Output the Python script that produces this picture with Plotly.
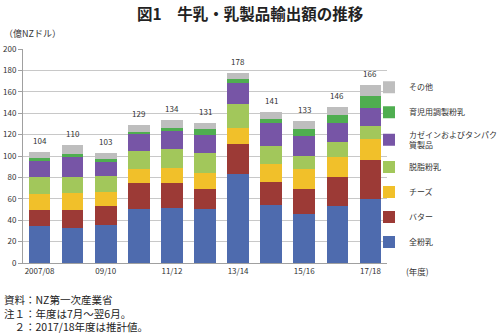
import plotly.graph_objects as go

categories = ["2007/08", "08/09", "09/10", "10/11", "11/12", "12/13",
              "13/14", "14/15", "15/16", "16/17", "17/18"]
tick_labels = ["2007/08", "09/10", "11/12", "13/14", "15/16", "17/18"]

whole_milk = [34.3, 32.8, 35.3, 50.9, 51.8, 50.5, 83.6, 54.0, 46.2, 53.0, 59.6]
butter = [15.0, 16.5, 17.7, 24.0, 23.1, 19.1, 27.2, 21.5, 23.4, 27.5, 36.5]
cheese = [15.0, 16.5, 13.5, 13.4, 14.1, 14.6, 15.0, 16.6, 17.8, 18.7, 19.7]
skim_milk = [15.7, 14.7, 14.9, 16.6, 17.1, 18.2, 22.7, 17.1, 12.8, 14.1, 12.5]
casein = [15.5, 19.0, 12.6, 15.3, 17.2, 17.6, 19.4, 21.3, 18.7, 17.2, 16.2]
infant = [2.2, 2.8, 3.0, 2.5, 3.1, 5.0, 4.4, 4.0, 6.5, 7.8, 11.9]
other = [6.3, 7.7, 6.0, 6.3, 7.6, 6.0, 5.7, 6.5, 7.6, 7.7, 9.6]
totals = [104, 110, 103, 129, 134, 131, 178, 141, 133, 146, 166]

series = [
    ("全粉乳", whole_milk, "#4E6BAE"),
    ("バター", butter, "#9C3A36"),
    ("チーズ", cheese, "#F1C02A"),
    ("脱脂粉乳", skim_milk, "#A2C75B"),
    ("カゼインおよびタンパク<br>質製品", casein, "#7755A6"),
    ("育児用調製粉乳", infant, "#4FAE50"),
    ("その他", other, "#BEBEBE"),
]

FONT = "Noto Sans CJK JP"

fig = go.Figure()
n = len(series)
for i, (name, vals, color) in enumerate(series):
    fig.add_trace(go.Bar(
        x=categories, y=vals, name=name, marker_color=color,
        marker_line_width=0, legendgroup=str(i), legendrank=100 + (n - i),
        hoverinfo="skip",
    ))

for c, t in zip(categories, totals):
    fig.add_annotation(x=c, y=t, text=str(t), showarrow=False,
                       yanchor="bottom", yshift=4,
                       font=dict(family=FONT, size=8, color="#333333"))

fig.add_annotation(xref="paper", yref="paper", x=0.624, y=1, yshift=36,
                   yanchor="middle",
                   text="<b>図1　牛乳・乳製品輸出額の推移</b>", showarrow=False,
                   font=dict(family=FONT, size=15.5, color="#222222"))
fig.add_annotation(xref="paper", yref="paper", x=-0.057, y=1, yshift=16,
                   xanchor="left", yanchor="middle", text="（億NZドル）",
                   showarrow=False,
                   font=dict(family=FONT, size=9, color="#333333"))
fig.add_annotation(xref="paper", yref="paper", x=1.047, y=0, yshift=-8,
                   xanchor="left", yanchor="middle", text="(年度)",
                   showarrow=False,
                   font=dict(family=FONT, size=8.5, color="#333333"))

notes = ["資料：NZ第一次産業省", "注１：年度は7月～翌6月。", "　２：2017/18年度は推計値。"]
fig.add_annotation(xref="paper", yref="paper", x=-0.057, y=0, yshift=-50,
                   xanchor="left", yanchor="middle", align="left",
                   text="<br>".join(notes), showarrow=False,
                   font=dict(family=FONT, size=10.5, color="#222222"))

fig.update_layout(
    width=500, height=334,
    barmode="stack", bargap=0.345,
    margin=dict(l=23, r=113, t=49, b=71, autoexpand=False),
    paper_bgcolor="white", plot_bgcolor="white",
    font=dict(family=FONT, size=8, color="#333333"),
    legend=dict(xref="container", yref="container", x=0.738, y=0.782,
                xanchor="left", yanchor="top", maxheight=1,
                traceorder="grouped", tracegroupgap=6,
                font=dict(family=FONT, size=8, color="#333333"),
                itemwidth=30, bgcolor="rgba(0,0,0,0)"),
    showlegend=True,
)
fig.update_xaxes(
    tickmode="array", tickvals=tick_labels, ticktext=tick_labels,
    showline=True, linecolor="#A0A0A0", linewidth=1, ticks="",
    tickfont=dict(family=FONT, size=8, color="#333333"),
)
fig.update_yaxes(
    range=[0, 200], dtick=20, showgrid=True, gridcolor="#C8C8C8",
    gridwidth=1, showline=True, linecolor="#A0A0A0", linewidth=1,
    ticks="outside", ticklen=4, tickcolor="#A0A0A0",
    tickfont=dict(family=FONT, size=8, color="#333333"), zeroline=False,
)

fig.write_html("out.html")
